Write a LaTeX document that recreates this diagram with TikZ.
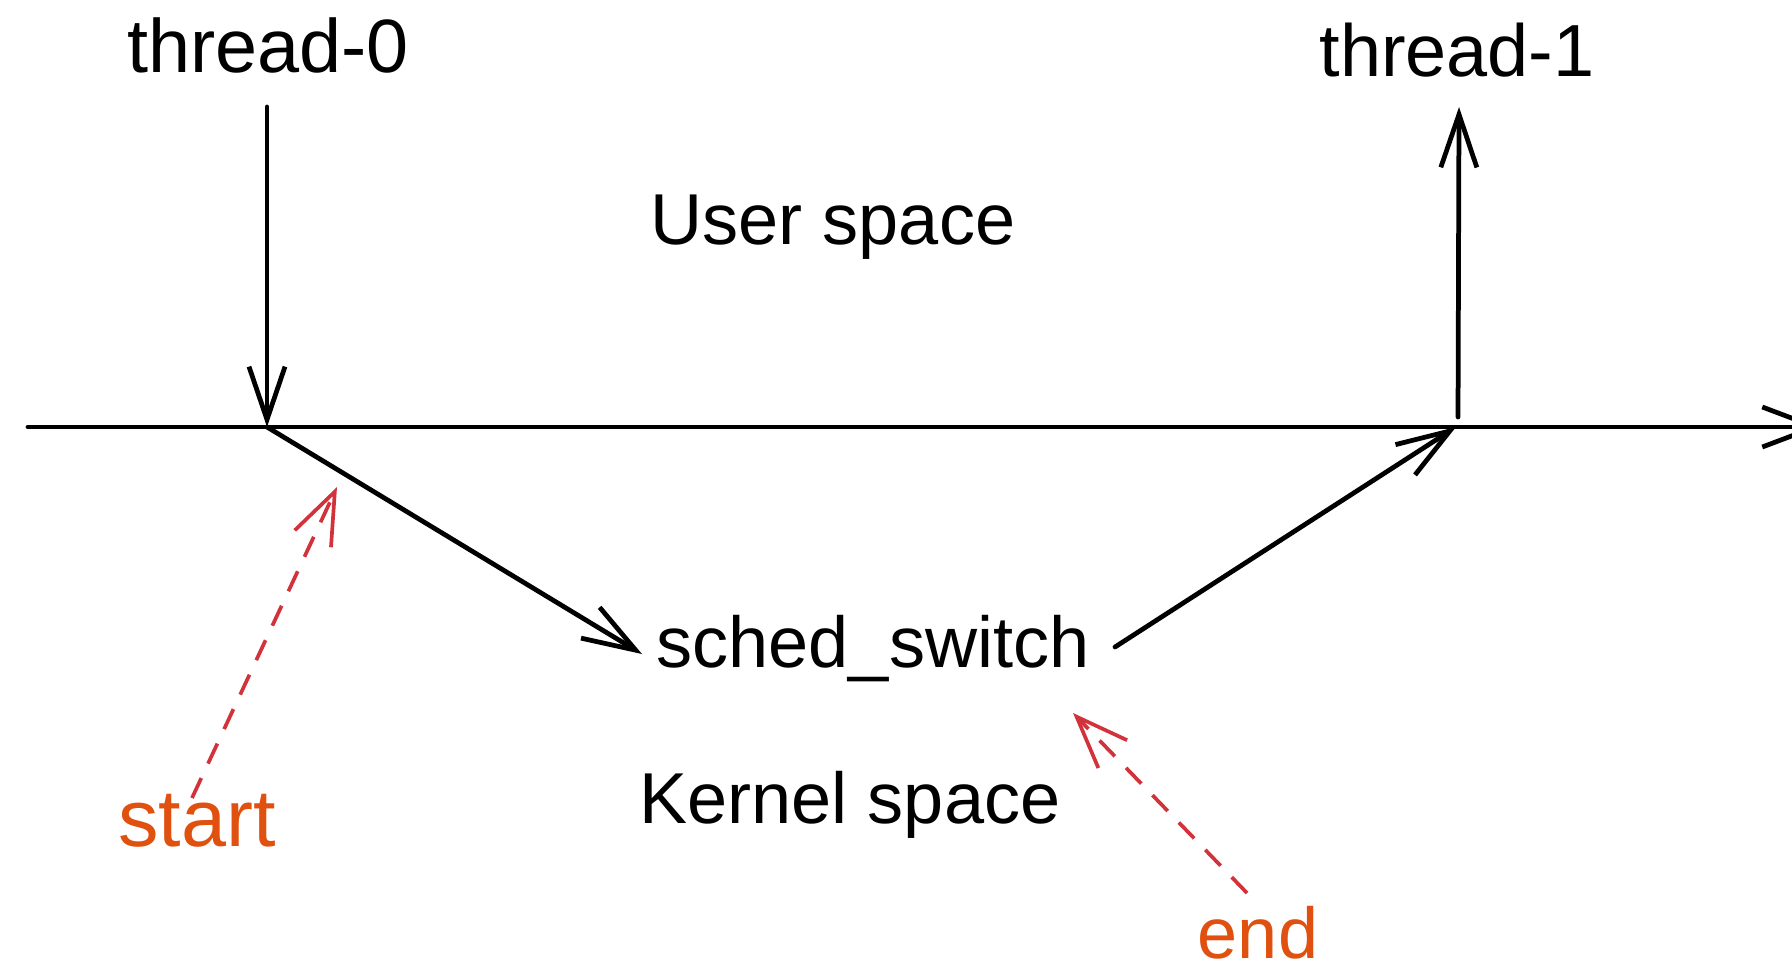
\documentclass[tikz,border=0pt]{standalone}
\usepackage{fontspec}
\setmainfont{Liberation Sans}
\usetikzlibrary{arrows.meta}
\definecolor{pen}{HTML}{000000}
\definecolor{markred}{HTML}{D2333A}
\definecolor{noteorange}{HTML}{E0500E}
\tikzset{
  label/.style={anchor=base, inner sep=0pt, text=pen, font=\fontsize{20.5}{24}\selectfont},
  note/.style={label, text=noteorange},
  flow/.style={draw=pen, line width=1.35pt, line cap=round, line join=round,
    -{Straight Barb[length=0.53cm, width=0.36cm, line width=1.35pt]}},
  axis/.style={draw=pen, line width=1.35pt, line cap=round},
  pointer/.style={draw=markred, line width=1.05pt, line cap=butt,
    dash pattern=on 0.22cm off 0.16cm,
    -{Straight Barb[length=0.52cm, width=0.4cm, line width=1.05pt, sep=0pt]}}
}
\begin{document}
\begin{tikzpicture}[x=0.01cm, y=-0.01cm]
  \useasboundingbox (0,0) rectangle (1792,973);
  \clip (0,0) rectangle (1792,973);

  % labels
  \node[label, font=\fontsize{21.5}{24}\selectfont] (thread0) at (268,73) {thread-0};
  \node[label, font=\fontsize{21}{24}\selectfont] (thread1) at (1457,77) {thread-1};
  \node[label] (user) at (833,245) {User space};
  \node[label] (sched) at (873,667) {sched\_switch};
  \node[label] (kernel) at (850,823) {Kernel space};
  \node[note, font=\fontsize{23}{26}\selectfont] (start) at (197,846) {start};
  \node[note] (endlbl) at (1258,958) {end};

  % anchor points of the connectors
  \coordinate (axisL) at (28,427);
  \coordinate (axisR) at (1822,427);
  \coordinate (t0top) at (267,107);
  \coordinate (enter) at (267,427);
  \coordinate (schedin) at (642,654);
  \coordinate (schedout) at (1115,647);
  \coordinate (leave) at (1456,427);
  \coordinate (t1base) at (1458,417);
  \coordinate (t1top) at (1459,107);
  \coordinate (startfrom) at (192,798);
  \coordinate (startto) at (337,487);
  \coordinate (endfrom) at (1247,893);
  \coordinate (endto) at (1073,713);

  % user/kernel boundary
  \draw[axis, -{Straight Barb[length=0.53cm, width=0.4cm, line width=1.35pt]}] (axisL) -- (axisR);

  % thread flow
  \draw[flow] (t0top) -- (enter);
  \draw[flow] (enter) -- (schedin);
  \draw[flow] (schedout) -- (leave);
  \draw[flow] (t1base) -- (t1top);

  % start / end markers
  \draw[pointer] (startfrom) -- (startto);
  \draw[pointer] (endfrom) -- (endto);
\end{tikzpicture}
\end{document}
